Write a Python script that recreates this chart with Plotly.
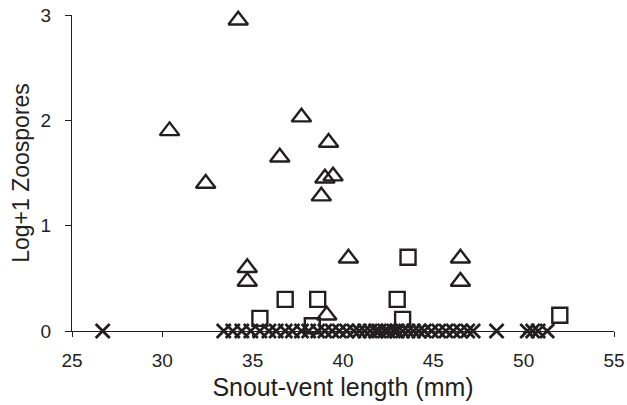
import plotly.graph_objects as go

# Triangles (series 1)
tri_x = [34.2, 30.4, 37.7, 32.4, 39.2, 36.5, 39.0, 39.45, 38.8, 34.7, 34.7, 40.3, 46.5, 46.5, 39.1]
tri_y = [2.95, 1.90, 2.03, 1.40, 1.79, 1.65, 1.45, 1.47, 1.28, 0.60, 0.47, 0.69, 0.69, 0.47, 0.15]

# Squares (series 2)
sq_x = [43.6, 36.8, 38.6, 43.0, 35.4, 43.3, 38.3, 52.0]
sq_y = [0.70, 0.30, 0.30, 0.30, 0.12, 0.11, 0.05, 0.15]

# Crosses (series 3, zero zoospores)
x_x = [26.7, 33.4, 33.9, 34.4, 34.9, 35.4, 35.9, 36.3, 36.8, 37.2, 37.7, 38.1, 38.6,
       39.0, 39.4, 39.8, 40.2, 40.6, 40.9, 41.2, 41.5, 41.8, 42.0, 42.3, 42.5, 42.8,
       43.0, 43.3, 43.6, 43.9, 44.2, 44.5, 44.9, 45.3, 45.7, 46.1, 46.5, 46.9, 47.2,
       48.5, 50.2, 50.5, 50.8, 51.3]
x_y = [0] * len(x_x)

x_title = "Snout-vent length (mm)"
y_title = "Log+1 Zoospores"

FONT = "Liberation Sans, Arial, Helvetica, sans-serif"
INK = "#231f20"

fig = go.Figure()
fig.add_trace(go.Scatter(x=x_x, y=x_y, mode="markers", cliponaxis=False,
                         marker=dict(symbol="x-thin", size=14, color=INK,
                                     line=dict(color=INK, width=2.8))))
fig.add_trace(go.Scatter(x=sq_x, y=sq_y, mode="markers", cliponaxis=False,
                         marker=dict(symbol="square-open", size=15, color=INK,
                                     line=dict(color=INK, width=2.4))))
fig.add_trace(go.Scatter(x=tri_x, y=tri_y, mode="markers", cliponaxis=False,
                         marker=dict(symbol="triangle-up-open", size=17, color=INK,
                                     line=dict(color=INK, width=2.4))))

fig.update_layout(
    width=627, height=405,
    margin=dict(l=72, r=13, t=15, b=74),
    paper_bgcolor="white", plot_bgcolor="white",
    showlegend=False,
    font=dict(family=FONT, color=INK, size=19),
)
fig.update_xaxes(range=[25, 55], dtick=5, tick0=25, showgrid=False, zeroline=False,
                 showline=True, linecolor=INK, linewidth=1.3, automargin=False,
                 ticks="outside", ticklen=5, tickwidth=1.3, tickcolor=INK,
                 ticklabelstandoff=7,
                 tickfont=dict(size=19),
                 title=dict(text=x_title, font=dict(size=25), standoff=8))
fig.update_yaxes(range=[0, 3], dtick=1, tick0=0, showgrid=False, zeroline=False,
                 showline=True, linecolor=INK, linewidth=1.3, automargin=False,
                 ticks="outside", ticklen=6, tickwidth=1.3, tickcolor=INK,
                 ticklabelstandoff=10,
                 tickfont=dict(size=19),
                 title=dict(text=y_title, font=dict(size=23), standoff=4))

fig.write_html("out.html")
